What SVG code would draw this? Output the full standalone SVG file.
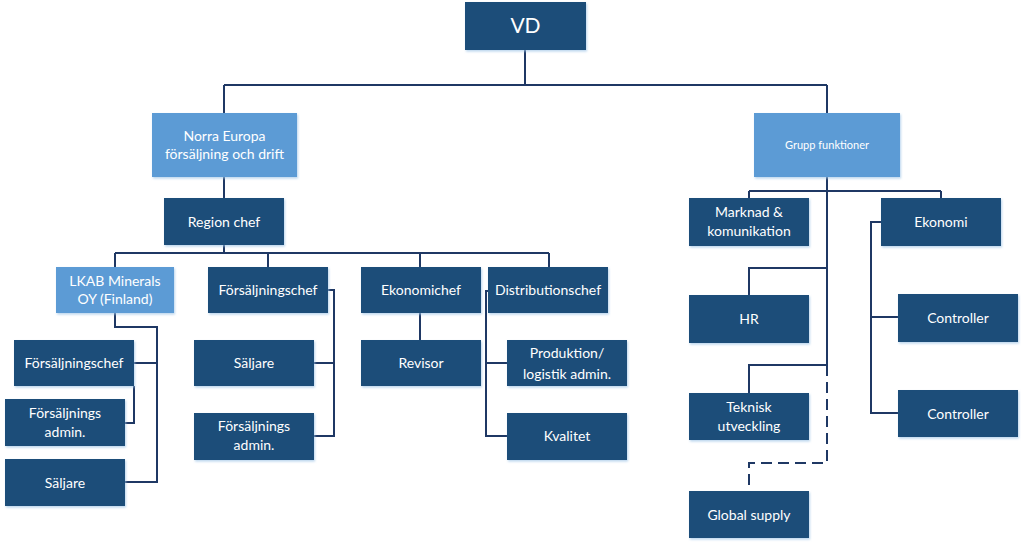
<svg xmlns="http://www.w3.org/2000/svg" width="1023" height="545" viewBox="0 0 1023 545">
<defs>
<filter id="sh" x="-10%" y="-10%" width="125%" height="130%">
<feDropShadow dx="1" dy="1.5" stdDeviation="1" flood-color="#9DC3E6" flood-opacity="0.7"/>
</filter>
<style>
.d{fill:#1F4E79;filter:url(#sh)}
.l{fill:#5B9BD5;filter:url(#sh)}
text{font-family:Lato,"Liberation Sans",sans-serif;font-size:14px;fill:#FFFFFF;text-anchor:middle}
.big{font-size:21px}
.sm{font-size:11px}
.c{fill:none;stroke:#1F3864;stroke-width:2}
.dash{stroke-dasharray:11 6}
</style>
</defs>
<rect width="1023" height="545" fill="#FFFFFF"/>
<g id="connectors">
<path class="c" d="M525,50 V85 M224,85 H827 M224,85 V113 M827,85 V113"/>
<path class="c" d="M224,177 V198"/>
<path class="c" d="M224,245 V253 M115,253 H549 M115,253 V267 M268,253 V267 M420,253 V267 M549,253 V267"/>
<path class="c" d="M115,313 V327 H157 V482 H125 M157,363 H134"/>
<path class="c" d="M134,386 V423 H125"/>
<path class="c" d="M328,290 H334 V436 H314 M334,363 H314"/>
<path class="c" d="M420,313 V340"/>
<path class="c" d="M488,291 H486 V436 H507 M486,363 H507"/>
<path class="c" d="M827,177 V365 M749,191 H941 M749,191 V198 M941,191 V198"/>
<path class="c" d="M827,268 H749 V295"/>
<path class="c" d="M827,365 H749 V393"/>
<path class="c dash" d="M827,365 V463 H749 V491"/>
<path class="c" d="M881,222 H871 V413 H898 M871,317 H898"/>
</g>
<g id="vd"><rect class="d" x="465" y="2" width="121" height="48"/><text class="big" x="525.5" y="33">VD</text></g>
<g id="norra-europa"><rect class="l" x="152" y="113" width="145" height="64"/><text x="224.5" y="141">Norra Europa</text><text x="224.5" y="159">försäljning och drift</text></g>
<g id="grupp-funktioner"><rect class="l" x="754" y="113" width="146" height="64"/><text class="sm" x="827" y="149">Grupp funktioner</text></g>
<g id="region-chef"><rect class="d" x="164" y="198" width="120" height="47"/><text x="224" y="226.5">Region chef</text></g>
<g id="lkab-finland"><rect class="l" x="56" y="267" width="118" height="46"/><text x="115" y="286">LKAB Minerals</text><text x="115" y="304">OY (Finland)</text></g>
<g id="forsaljningschef"><rect class="d" x="208" y="267" width="120" height="46"/><text x="268" y="295">Försäljningschef</text></g>
<g id="ekonomichef"><rect class="d" x="361" y="267" width="120" height="46"/><text x="421" y="295">Ekonomichef</text></g>
<g id="distributionschef"><rect class="d" x="488" y="267" width="120" height="46"/><text x="548" y="295">Distributionschef</text></g>
<g id="fi-forsaljningschef"><rect class="d" x="14" y="340" width="120" height="46"/><text x="74" y="368">Försäljningschef</text></g>
<g id="fi-forsaljnings-admin"><rect class="d" x="5" y="399" width="120" height="47"/><text x="65" y="418">Försäljnings</text><text x="65" y="437">admin.</text></g>
<g id="fi-saljare"><rect class="d" x="5" y="459" width="120" height="47"/><text x="65" y="487.5">Säljare</text></g>
<g id="saljare"><rect class="d" x="194" y="340" width="120" height="46"/><text x="254" y="368">Säljare</text></g>
<g id="forsaljnings-admin"><rect class="d" x="194" y="413" width="120" height="47"/><text x="254" y="431">Försäljnings</text><text x="254" y="450">admin.</text></g>
<g id="revisor"><rect class="d" x="361" y="340" width="120" height="46"/><text x="421" y="368">Revisor</text></g>
<g id="produktion-logistik"><rect class="d" x="507" y="340" width="120" height="46"/><text x="567" y="358">Produktion/</text><text x="567" y="379">logistik admin.</text></g>
<g id="kvalitet"><rect class="d" x="507" y="413" width="120" height="47"/><text x="567" y="441">Kvalitet</text></g>
<g id="marknad"><rect class="d" x="689" y="198" width="120" height="48"/><text x="749" y="217">Marknad &amp;</text><text x="749" y="236">komunikation</text></g>
<g id="ekonomi"><rect class="d" x="881" y="198" width="120" height="48"/><text x="941" y="227">Ekonomi</text></g>
<g id="hr"><rect class="d" x="689" y="295" width="120" height="48"/><text x="749" y="324">HR</text></g>
<g id="controller-1"><rect class="d" x="898" y="294" width="120" height="48"/><text x="958" y="323">Controller</text></g>
<g id="teknisk-utveckling"><rect class="d" x="689" y="393" width="120" height="47"/><text x="749" y="412">Teknisk</text><text x="749" y="431">utveckling</text></g>
<g id="controller-2"><rect class="d" x="898" y="390" width="120" height="47"/><text x="958" y="418.5">Controller</text></g>
<g id="global-supply"><rect class="d" x="689" y="491" width="120" height="47"/><text x="749" y="519.5">Global supply</text></g>
</svg>
